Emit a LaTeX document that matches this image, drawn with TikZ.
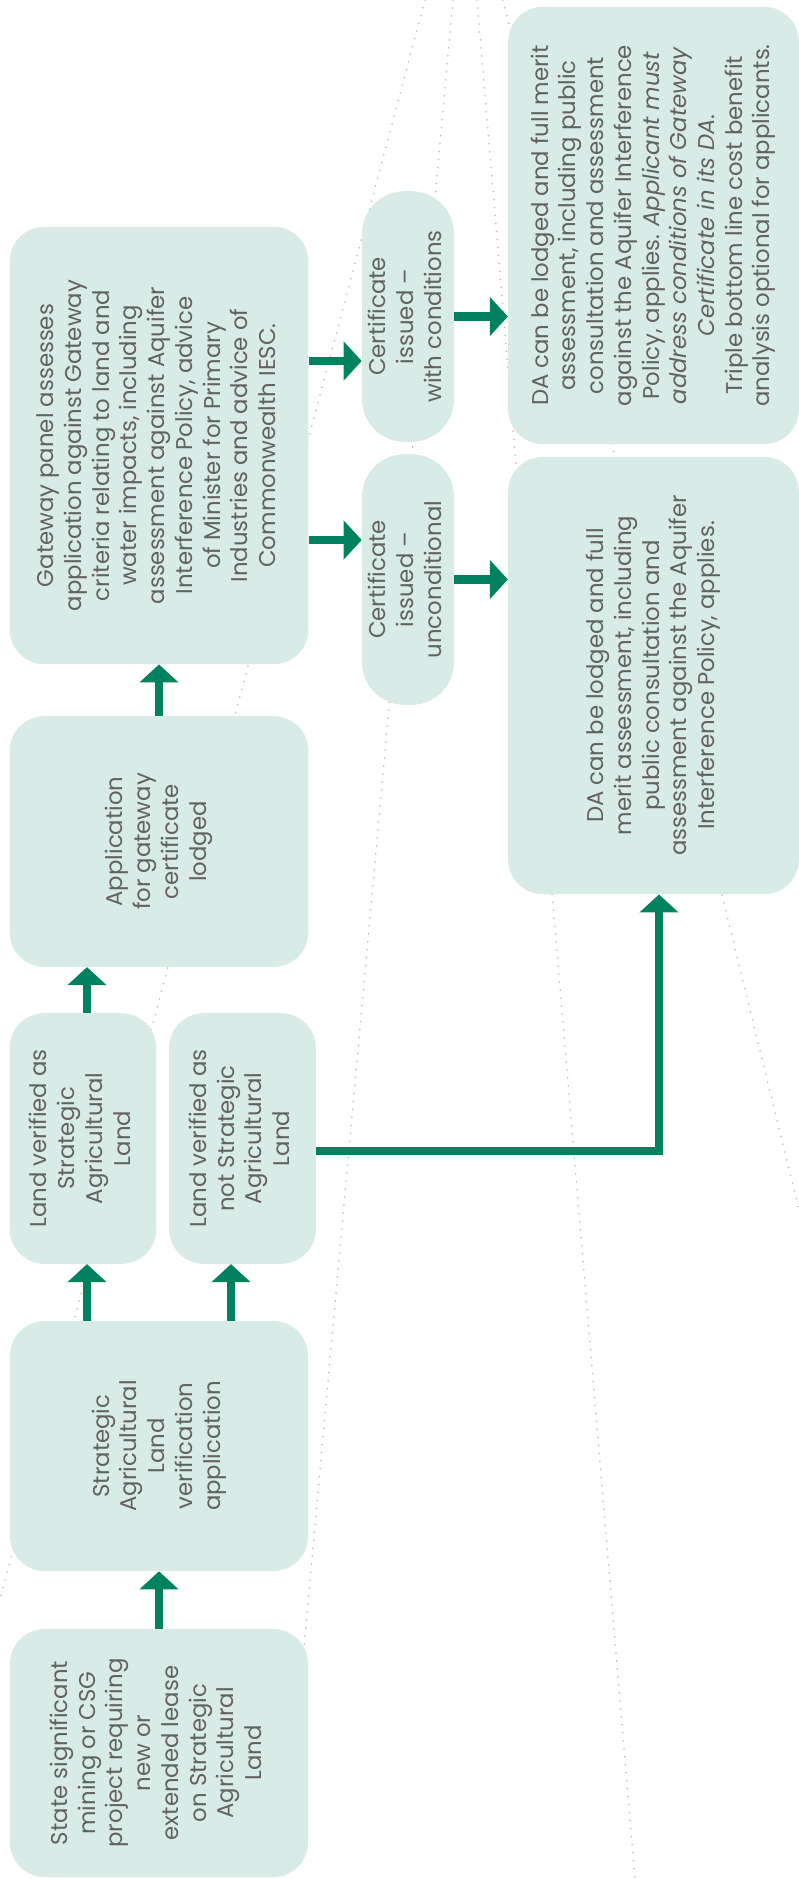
\documentclass[tikz,border=0pt]{standalone}
\usepackage{fontspec}
\setmainfont{Poppins}
\usetikzlibrary{arrows.meta}
\definecolor{boxfill}{HTML}{D9EBE6}
\definecolor{flowgreen}{HTML}{00825F}
\definecolor{txtgray}{HTML}{626262}
\definecolor{dotgray}{HTML}{BDB3AA}
\newcommand{\vtext}[1]{\rotatebox{90}{\begin{tabular}{@{}c@{}}#1\end{tabular}}}

\begin{document}
\begin{tikzpicture}[x=0.75pt,y=-0.75pt,
  every node/.style={font=\fontsize{17.1}{20.8}\selectfont,text=txtgray},
  stage/.style={fill=boxfill,rounded corners=26pt,inner sep=0pt},
  arr/.style={-{Triangle[length=13.5pt,width=28.5pt]},line width=6.2pt,flowgreen},
  guide/.style={dotgray,line width=1.3pt,dash pattern=on 0.01pt off 6pt,line cap=round}]
\useasboundingbox (0,0) rectangle (799,1879);
% background guide lines
\draw[guide] (425,0) -- (0,1599);
\draw[guide] (453,0) -- (283,1879);
\draw[guide] (477,0) -- (635,1879);
\draw[guide] (503,0) -- (799,1210);
% stages
\node[stage,minimum width=223.5pt,minimum height=186pt] (ssd) at (159,1753) {\vtext{State significant\\mining or CSG\\project requiring\\new or\\extended lease\\on Strategic\\Agricultural\\Land}};
\node[stage,minimum width=223.5pt,minimum height=187.5pt] (verapp) at (159,1446) {\vtext{Strategic\\Agricultural\\Land\\verification\\application}};
\node[stage,minimum width=110pt,minimum height=188pt] (salyes) at (83,1138.5) {\vtext{Land verified as\\Strategic\\Agricultural\\Land}};
\node[stage,minimum width=110pt,minimum height=188pt] (salno) at (242.5,1138.5) {\vtext{Land verified as\\not Strategic\\Agricultural\\Land}};
\node[stage,minimum width=224pt,minimum height=188pt] (gwapp) at (159,841.5) {\vtext{Application\\for gateway\\certificate\\lodged}};
\node[stage,minimum width=224pt,minimum height=328pt] (panel) at (159,445.5) {\vtext{Gateway panel assesses\\application against Gateway\\criteria relating to land and\\water impacts, including\\assessment against Aquifer\\Interference Policy, advice\\of Minister for Primary\\Industries and advice of\\Commonwealth IESC.}};
\node[stage,rounded corners=32pt,minimum width=69pt,minimum height=188pt] (certcond) at (408,316.5) {\vtext{Certificate\\issued --\\with conditions}};
\node[stage,rounded corners=32pt,minimum width=69pt,minimum height=188pt] (certfree) at (408,579.5) {\vtext{Certificate\\issued --\\unconditional}};
\node[stage,minimum width=218pt,minimum height=328pt] (dacond) at (653.5,225.5) {\vtext{DA can be lodged and full merit\\assessment, including public\\consultation and assessment\\against the Aquifer Interference\\Policy, applies. \textit{Applicant must}\\\textit{address conditions of Gateway}\\\textit{Certificate in its DA}.\\Triple bottom line cost benefit\\analysis optional for applicants.}};
\node[stage,minimum width=218pt,minimum height=328pt] (dafree) at (653.5,675.5) {\vtext{DA can be lodged and full\\merit assessment, including\\public consultation and\\assessment against the Aquifer\\Interference Policy, applies.}};
% flow
\draw[arr] (ssd.north) -- (verapp.south);
\draw[arr] (verapp.north -| 87,0) -- (salyes.south -| 87,0);
\draw[arr] (verapp.north -| 231,0) -- (salno.south -| 231,0);
\draw[arr] (salyes.north -| 87,0) -- (gwapp.south -| 87,0);
\draw[arr] (gwapp.north) -- (panel.south);
\draw[arr] (panel.east |- 0,361) -- (certcond.west |- 0,361);
\draw[arr] (panel.east |- 0,540) -- (certfree.west |- 0,540);
\draw[arr] (certcond.east) -- (dacond.west |- certcond.east);
\draw[arr] (certfree.east) -- (dafree.west |- certfree.east);
\draw[arr] (salno.east |- 0,1151) -| (659,0 |- dafree.south);
\end{tikzpicture}
\end{document}
